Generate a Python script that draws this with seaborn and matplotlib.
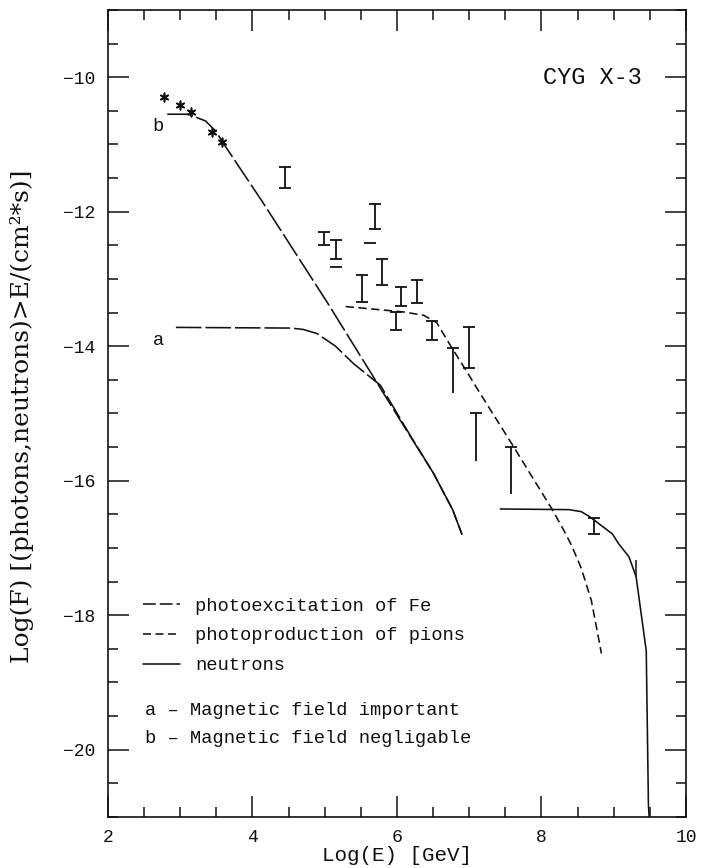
import matplotlib
matplotlib.use("Agg")
import matplotlib.pyplot as plt
from matplotlib.lines import Line2D
from matplotlib.ticker import MultipleLocator
import numpy as np
import pandas as pd
import seaborn as sns

# ---- model curves: log10(E/GeV) vs log10(integral flux) ----
# photoexcitation of Fe, b: magnetic field negligible
fe_b_logE = [2.82, 3.11, 3.35, 3.49, 3.62, 4.13, 5.03, 6.12, 6.50, 6.77, 6.90]
fe_b_logF = [-10.55, -10.55, -10.65, -10.80, -11.02, -11.84, -13.34, -15.23, -15.88, -16.43, -16.80]

# photoexcitation of Fe, a: magnetic field important
fe_a_logE = [2.94, 4.53, 4.70, 4.89, 5.15, 5.40, 5.77, 6.18, 6.50, 6.77, 6.90]
fe_a_logF = [-13.72, -13.73, -13.75, -13.81, -14.00, -14.26, -14.58, -15.32, -15.88, -16.43, -16.80]

# photoproduction of pions
pi_logE = [5.29, 6.09, 6.37, 6.55, 6.74, 6.95, 7.15, 7.29, 7.60, 7.88, 8.15, 8.32, 8.42, 8.55, 8.69, 8.83]
pi_logF = [-13.41, -13.49, -13.54, -13.65, -13.99, -14.35, -14.70, -14.94, -15.47, -15.96, -16.43,
           -16.76, -16.97, -17.30, -17.78, -18.57]

# neutrons
n_logE = [7.43, 8.38, 8.55, 8.66, 8.98, 9.07, 9.21, 9.31, 9.45, 9.48, 9.49]
n_logF = [-16.42, -16.43, -16.46, -16.53, -16.79, -16.94, -17.13, -17.43, -18.53, -20.81, -21.0]

# ---- measurements ----
star_logE = [2.77, 2.99, 3.15, 3.44, 3.58]
star_logF = [-10.30, -10.41, -10.51, -10.81, -10.96]

# bars capped at both ends
bar_logE = [4.45, 4.99, 5.16, 5.51, 5.69, 5.79, 5.98, 6.05, 6.28, 6.48, 6.99, 8.72]
bar_hi = [-11.34, -12.30, -12.42, -12.94, -11.88, -12.70, -13.49, -13.12, -13.02, -13.62, -13.71, -16.55]
bar_lo = [-11.64, -12.50, -12.70, -13.34, -12.26, -13.09, -13.76, -13.40, -13.35, -13.91, -14.32, -16.79]

# bars capped at the top only
tbar_logE = [6.78, 7.09, 7.58]
tbar_hi = [-14.02, -15.00, -15.50]
tbar_lo = [-14.70, -15.70, -16.20]

# uncapped bar on the neutron curve
ubar_logE = [9.31]
ubar_hi = [-17.18]
ubar_lo = [-17.43]

# isolated cap marks
cap_logE = [5.16, 5.63]
cap_logF = [-12.82, -12.46]

INK = "#111111"
LONG = (0, (16, 2.5))
SHORT = (0, (5.2, 2.8))

sns.set_style("ticks")
plt.rcParams["font.family"] = ["Liberation Mono", "DejaVu Sans Mono"]
plt.rcParams["axes.unicode_minus"] = True

fig = plt.figure(figsize=(7.03, 8.68), dpi=100)
ax = fig.add_axes([0.1536, 0.0588, 0.8222, 0.9297])

curves = [
    (fe_b_logE, fe_b_logF, LONG),
    (fe_a_logE, fe_a_logF, LONG),
    (pi_logE, pi_logF, SHORT),
    (n_logE, n_logF, "-"),
]
for xs, ys, ls in curves:
    df = pd.DataFrame({"logE": xs, "logF": ys})
    sns.lineplot(data=df, x="logE", y="logF", ax=ax, sort=False, estimator=None,
                 color=INK, lw=1.15, linestyle=ls)

sns.scatterplot(x=star_logE, y=star_logF, ax=ax, marker=(6, 2, 0), s=36,
                color=INK, edgecolor=INK, linewidth=1.2, zorder=5)

bar_hi_a = np.array(bar_hi)
bar_lo_a = np.array(bar_lo)
ax.errorbar(bar_logE, (bar_hi_a + bar_lo_a) / 2, yerr=(bar_hi_a - bar_lo_a) / 2,
            fmt="none", ecolor=INK, elinewidth=1.3, capsize=4.3, capthick=1.3)

ax.vlines(tbar_logE, tbar_lo, tbar_hi, color=INK, lw=1.3)
sns.scatterplot(x=tbar_logE, y=tbar_hi, ax=ax, marker="_", s=75, color=INK, linewidth=1.3)
ax.vlines(ubar_logE, ubar_lo, ubar_hi, color=INK, lw=1.1)
sns.scatterplot(x=cap_logE, y=cap_logF, ax=ax, marker="_", s=75, color=INK, linewidth=1.3)

# curve tags and source name
ax.text(2.69, -10.73, "b", fontsize=13.5, ha="center", va="center", color=INK)
ax.text(2.70, -13.91, "a", fontsize=13.5, ha="center", va="center", color=INK)
ax.text(8.70, -10.0, "CYG X-3", fontsize=17, ha="center", va="center", color=INK)

ax.set_xlim(2, 10)
ax.set_ylim(-21, -9)
ax.xaxis.set_major_locator(MultipleLocator(2))
ax.xaxis.set_minor_locator(MultipleLocator(0.5))
ax.yaxis.set_major_locator(MultipleLocator(2))
ax.yaxis.set_minor_locator(MultipleLocator(0.5))
ax.tick_params(which="both", direction="in", top=True, right=True, color=INK,
               width=1.1, labelsize=13, labelcolor=INK)
ax.tick_params(axis="x", pad=8.5)
ax.tick_params(axis="y", pad=9)
ax.tick_params(which="major", length=15)
ax.tick_params(which="minor", length=7.5)
for sp in ax.spines.values():
    sp.set_linewidth(1.2)
    sp.set_color(INK)

ax.set_xlabel("Log(E) [GeV]", fontsize=15, labelpad=0, color=INK)
ax.set_ylabel("Log(F) [(photons,neutrons)>E/(cm²*s)]", fontsize=18,
              family=["DejaVu Serif"], color=INK)
ax.yaxis.set_label_coords(-0.128, 0.497)

# key
h_fe = Line2D([], [], color=INK, lw=1.15, linestyle=(0, (8, 2.5)))
h_pi = Line2D([], [], color=INK, lw=1.15, linestyle=(0, (5, 2.8)))
h_n = Line2D([], [], color=INK, lw=1.15)
leg1 = ax.legend([h_fe, h_pi, h_n],
                 ["photoexcitation of Fe", "photoproduction of pions", "neutrons"],
                 loc="upper left", bbox_to_anchor=(0.06, 0.272), frameon=False,
                 fontsize=13.5, handlelength=2.0, handletextpad=0.8, labelspacing=0.68,
                 borderpad=0, borderaxespad=0)
for t in leg1.get_texts():
    t.set_color(INK)
ax.add_artist(leg1)
blank = Line2D([], [], color="none")
leg2 = ax.legend([blank, blank],
                 ["a – Magnetic field important", "b – Magnetic field negligable"],
                 loc="upper left", bbox_to_anchor=(0.064, 0.143), frameon=False,
                 fontsize=13.5, handlelength=0, handletextpad=0, labelspacing=0.62,
                 borderpad=0, borderaxespad=0)
for t in leg2.get_texts():
    t.set_color(INK)

fig.savefig("out.png", dpi=100, facecolor="white")
